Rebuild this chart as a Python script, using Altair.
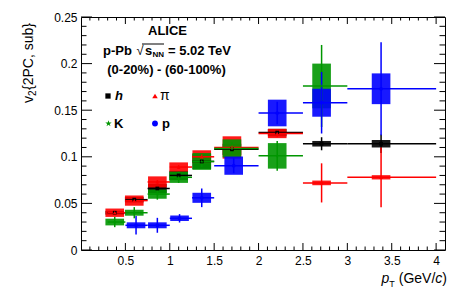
import altair as alt
import pandas as pd

FONT = "Liberation Sans"

species = ["h", "π", "K", "p"]
colors = ["#000000", "#ff0000", "#009600", "#0000ff"]
STAR = ("M0,-1L0.2245,-0.309L0.951,-0.309L0.363,0.118L0.588,0.809L0,0.382"
        "L-0.588,0.809L-0.363,0.118L-0.951,-0.309L-0.2245,-0.309Z")
shapes = ["square", "triangle-up", STAR, "circle"]

# charged hadrons
h_pt = [0.38, 0.60, 0.86, 1.10, 1.36, 1.70, 2.21, 2.71, 3.38]
h_lo = [0.30, 0.50, 0.75, 1.00, 1.25, 1.50, 2.00, 2.50, 3.00]
h_hi = [0.50, 0.75, 1.00, 1.25, 1.50, 2.00, 2.50, 3.00, 4.00]
h_v2 = [0.040, 0.054, 0.066, 0.080, 0.095, 0.108, 0.126, 0.114, 0.114]
h_stat = [0.001, 0.001, 0.001, 0.001, 0.0015, 0.002, 0.002, 0.007, 0.010]
h_sys = [0.002, 0.003, 0.005, 0.005, 0.008, 0.006, 0.004, 0.003, 0.004]

# pions
pi_pt = [0.38, 0.60, 0.86, 1.10, 1.36, 1.70, 2.21, 2.71, 3.38]
pi_lo = [0.30, 0.50, 0.75, 1.00, 1.25, 1.50, 2.00, 2.50, 3.00]
pi_hi = [0.50, 0.75, 1.00, 1.25, 1.50, 2.00, 2.50, 3.00, 4.00]
pi_v2 = [0.040, 0.053, 0.073, 0.089, 0.100, 0.110, 0.125, 0.072, 0.078]
pi_stat = [0.001, 0.0015, 0.002, 0.002, 0.0025, 0.003, 0.004, 0.021, 0.032]
pi_sys = [0.0045, 0.0055, 0.006, 0.005, 0.007, 0.012, 0.005, 0.0025, 0.0023]

# kaons
k_pt = [0.38, 0.60, 0.86, 1.10, 1.36, 1.70, 2.21, 2.71]
k_lo = [0.30, 0.50, 0.75, 1.00, 1.25, 1.50, 2.00, 2.50]
k_hi = [0.50, 0.75, 1.00, 1.25, 1.50, 2.00, 2.50, 3.00]
k_v2 = [0.030, 0.040, 0.060, 0.078, 0.095, 0.109, 0.101, 0.176]
k_stat = [0.0055, 0.006, 0.006, 0.006, 0.006, 0.006, 0.016, 0.044]
k_sys = [0.0036, 0.0032, 0.005, 0.006, 0.009, 0.0097, 0.0137, 0.024]

# protons
p_pt = [0.62, 0.86, 1.11, 1.36, 1.72, 2.21, 2.71, 3.38]
p_lo = [0.50, 0.75, 1.00, 1.25, 1.50, 2.00, 2.50, 3.00]
p_hi = [0.75, 1.00, 1.25, 1.50, 2.00, 2.50, 3.00, 4.00]
p_v2 = [0.0265, 0.0265, 0.034, 0.056, 0.0905, 0.147, 0.158, 0.173]
p_stat = [0.010, 0.008, 0.0045, 0.010, 0.008, 0.012, 0.033, 0.050]
p_sys = [0.0032, 0.0032, 0.003, 0.0054, 0.0098, 0.0143, 0.015, 0.0165]

x_major = [0.5, 1.0, 1.5, 2.0, 2.5, 3.0, 3.5, 4.0]
y_major = [0.0, 0.05, 0.10, 0.15, 0.20, 0.25]
x_minor = [round(i * 0.1, 2) for i in range(1, 41) if i % 5 != 0]
y_minor = [round(i * 0.01, 3) for i in range(1, 25) if i % 5 != 0]

BOX_HALF = 0.105

rows = []
for sp, pts, los, his, vals, sts, sys_ in [
    ("h", h_pt, h_lo, h_hi, h_v2, h_stat, h_sys),
    ("π", pi_pt, pi_lo, pi_hi, pi_v2, pi_stat, pi_sys),
    ("K", k_pt, k_lo, k_hi, k_v2, k_stat, k_sys),
    ("p", p_pt, p_lo, p_hi, p_v2, p_stat, p_sys),
]:
    for x, lo, hi, v, st, sy in zip(pts, los, his, vals, sts, sys_):
        rows.append(dict(sp=sp, x=x, xlo=lo, xhi=hi, y=v,
                         ylo=v - st, yhi=v + st, bl=x - BOX_HALF, br=x + BOX_HALF,
                         sl=v - sy, sh=v + sy))
df = pd.DataFrame(rows)

W, H = 364, 233
xsc = alt.Scale(domain=[0, 4.1], nice=False, zero=False)
ysc = alt.Scale(domain=[0, 0.25], nice=False, zero=False)
xaxis = alt.Axis(values=x_major, format="~g", title=None, tickSize=0, domain=False,
                 grid=False, labelPadding=5, labelFont=FONT, labelFontSize=12,
                 labelColor="black", labelFlush=False)
yaxis = alt.Axis(values=y_major, format="~g", title=None, tickSize=0, domain=False,
                 grid=False, labelPadding=4, labelFont=FONT, labelFontSize=12,
                 labelColor="black", labelFlush=False)


def X(f):
    return alt.X(f, type="quantitative", scale=xsc, axis=xaxis)


def Y(f):
    return alt.Y(f, type="quantitative", scale=ysc, axis=yaxis)


color = alt.Color("sp:N", scale=alt.Scale(domain=species, range=colors), legend=None)
shape = alt.Shape("sp:N", scale=alt.Scale(domain=species, range=shapes), legend=None)

base = alt.Chart(df)
boxes = base.mark_rect(opacity=0.9).encode(x=X("bl"), x2="br", y=Y("sl"), y2="sh", color=color)
hbars = base.mark_rule(strokeWidth=1.5).encode(x=X("xlo"), x2="xhi", y=Y("y"), color=color)
vbars = base.mark_rule(strokeWidth=1.5).encode(x=X("x"), y=Y("ylo"), y2="yhi", color=color)
pts = base.mark_point(filled=True, size=14, opacity=1).encode(x=X("x"), y=Y("y"), color=color, shape=shape)

layers = [boxes, hbars, vbars, pts]

# inward ticks on all four sides
dxM = pd.DataFrame({"t": x_major})
dxm = pd.DataFrame({"t": x_minor})
dyM = pd.DataFrame({"t": y_major})
dym = pd.DataFrame({"t": y_minor})
for d, L in [(dxM, 7), (dxm, 3.5)]:
    layers.append(alt.Chart(d).mark_rule(color="black", strokeWidth=1).encode(
        x=X("t"), y=alt.value(H), y2=alt.value(H - L)))
    layers.append(alt.Chart(d).mark_rule(color="black", strokeWidth=1).encode(
        x=X("t"), y=alt.value(0), y2=alt.value(L)))
for d, L in [(dyM, 11), (dym, 5.5)]:
    layers.append(alt.Chart(d).mark_rule(color="black", strokeWidth=1).encode(
        y=Y("t"), x=alt.value(0), x2=alt.value(L)))
    layers.append(alt.Chart(d).mark_rule(color="black", strokeWidth=1).encode(
        y=Y("t"), x=alt.value(W), x2=alt.value(W - L)))

one = pd.DataFrame({"d": [0]})


def txt(text, x, y, size=13, weight="bold", style="normal", align="left",
        baseline="middle", angle=0):
    kw = dict(text=text, font=FONT, fontSize=size, fontWeight=weight, fontStyle=style,
              align=align, baseline=baseline, color="black")
    if angle:
        kw["angle"] = angle
    return alt.Chart(one).mark_text(**kw).encode(x=alt.value(x), y=alt.value(y))


# annotation block
layers += [
    txt("ALICE", 86.5, 14, align="center"),
    txt("p-Pb", 22, 34),
    txt("√", 55.5, 34, weight="normal"),
    txt("s", 64, 34),
    txt("NN", 71.5, 37.5, size=8),
    txt("= 5.02 TeV", 87, 34),
    alt.Chart(one).mark_rule(color="black", strokeWidth=1).encode(
        x=alt.value(61), x2=alt.value(83), y=alt.value(27)),
    txt("(0-20%) - (60-100%)", 85.5, 53, align="center"),
]

# legend
leg = [("h", 27, 79, "square", 28, "h", "italic", 34, "bold"),
       ("π", 74, 79, "triangle-up", 30, "π", "normal", 79, "normal"),
       ("K", 27.5, 106.5, STAR, 45, "K", "normal", 33, "bold"),
       ("p", 74, 106.5, "circle", 34, "p", "normal", 81, "bold")]
for sp, mx, my, shp, sz, label, sty, tx, wt in leg:
    c = colors[species.index(sp)]
    layers.append(alt.Chart(one).mark_point(filled=True, opacity=1, size=sz, shape=shp, color=c)
                  .encode(x=alt.value(mx), y=alt.value(my)))
    layers.append(txt(label, tx, my, style=sty, weight=wt, size=14 if sp == "π" else 13))

# x title
layers += [
    txt(")", 366, 266, size=14, weight="normal", align="right", baseline="alphabetic"),
    txt("c", 361.3, 266, size=14, weight="normal", style="italic", align="right", baseline="alphabetic"),
    txt("(GeV/", 354.3, 266, size=14, weight="normal", align="right", baseline="alphabetic"),
    txt("T", 313.8, 270, size=9, weight="normal", align="right", baseline="alphabetic"),
    txt("p", 308.3, 266, size=14, weight="normal", style="italic", align="right", baseline="alphabetic"),
]

# y title (rotated)
layers += [
    txt("v", -48.5, 86, size=14, weight="normal", baseline="alphabetic", angle=270),
    txt("2", -45, 79, size=10, weight="normal", baseline="alphabetic", angle=270),
    txt("{2PC, sub}", -48.5, 73, size=14, weight="normal", baseline="alphabetic", angle=270),
]

chart = alt.layer(*layers).properties(
    width=W, height=H,
    autosize=alt.AutoSizeParams(type="none"),
    padding={"left": 73, "top": 9, "right": 4, "bottom": 42},
    background="white",
).configure_view(stroke="black", strokeWidth=1)

chart.save("out.html", embed_options={"renderer": "svg", "actions": False})
